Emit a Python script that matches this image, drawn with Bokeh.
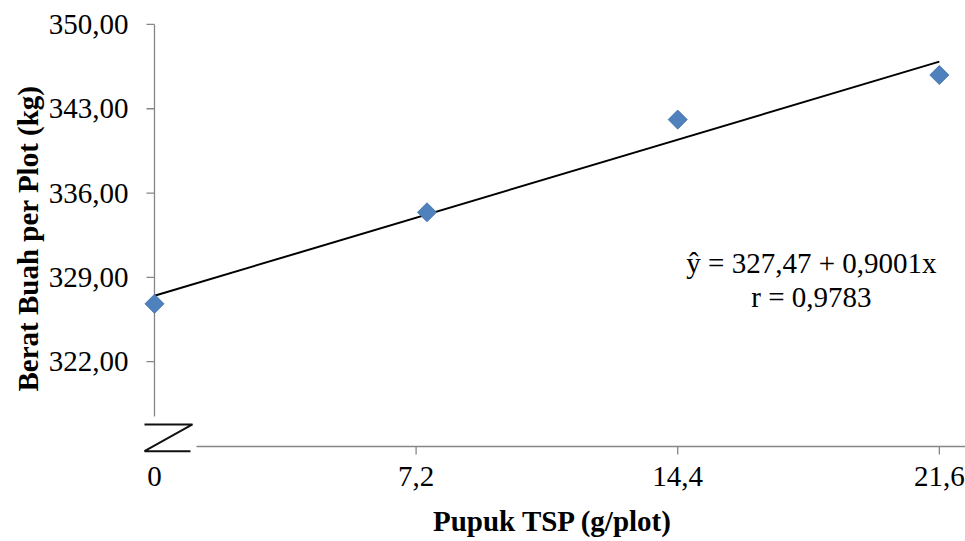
from bokeh.plotting import figure
from bokeh.models import Range1d, FixedTicker
from bokeh.embed import file_html
from bokeh.resources import INLINE
from bokeh.models import Label
import math

# ---- data ----
x_vals = [0, 7.5, 14.4, 21.6]
y_vals = [326.8, 334.4, 342.1, 345.8]
x_ticks = [0, 7.2, 14.4, 21.6]
x_tick_labels = ["0", "7,2", "14,4", "21,6"]
y_ticks = [322, 329, 336, 343, 350]
y_tick_labels = ["322,00", "329,00", "336,00", "343,00", "350,00"]
intercept = 327.47
slope = 0.9001
fit_x = [0, 21.6]
eq_text = "\u0177 = 327,47 + 0,9001x"
r_text = "r = 0,9783"

FONT = "Liberation Serif"
AXIS_GREY = "#868686"
FS = "29px"

fit_y = [intercept + slope * v for v in fit_x]

# plot ranges: the frame extends slightly beyond the drawn axes so that the
# axis-break mark (drawn as glyphs) fits inside it
x0, x1 = -0.385, 22.32
y0, y1 = 314.12, 350.33
x_axis_at = 314.95      # y value where the broken x axis line sits
y_axis_at = 0.0         # x value of the y axis line
y_line_from = 317.44    # y axis line stops here (break below)
x_line_from = 1.156     # x axis line starts here (break left of it)
px_x = 36.34            # pixels per x unit
px_y = 12.04            # pixels per y unit
tick_len = 8

p = figure(width=965, height=541, output_backend="svg", toolbar_location=None,
           x_range=Range1d(x0, x1), y_range=Range1d(y0, y1),
           min_border_left=140, min_border_right=0, min_border_top=20,
           min_border_bottom=85)
p.outline_line_color = None
p.grid.grid_line_color = None
p.background_fill_color = "white"
p.border_fill_color = "white"

# y axis: labels/title from the axis, line & ticks drawn below
yax = p.yaxis[0]
yax.ticker = FixedTicker(ticks=y_ticks)
yax.major_label_overrides = dict(zip(y_ticks, y_tick_labels))
yax.axis_line_color = None
yax.major_tick_line_color = None
yax.minor_tick_line_color = None
yax.major_tick_out = 0
yax.major_tick_in = 0
yax.major_label_text_font = FONT
yax.major_label_text_font_size = FS
yax.major_label_text_color = "black"
yax.major_label_standoff = 12
yax.axis_label = "Berat Buah per Plot (kg)"
yax.axis_label_text_font = FONT
yax.axis_label_text_font_size = FS
yax.axis_label_text_font_style = "bold"
yax.axis_label_text_color = "black"
yax.axis_label_standoff = 2

# x axis
xax = p.xaxis[0]
xax.ticker = FixedTicker(ticks=x_ticks)
xax.major_label_overrides = dict(zip(x_ticks, x_tick_labels))
xax.axis_line_color = None
xax.major_tick_line_color = None
xax.minor_tick_line_color = None
xax.major_tick_out = 0
xax.major_tick_in = 0
xax.major_label_text_font = FONT
xax.major_label_text_font_size = FS
xax.major_label_text_color = "black"
xax.major_label_standoff = 10
xax.axis_label = "Pupuk TSP (g/plot)"
xax.axis_label_text_font = FONT
xax.axis_label_text_font_size = FS
xax.axis_label_text_font_style = "bold"
xax.axis_label_text_color = "black"
xax.axis_label_standoff = 16

# axis lines and ticks
p.segment(x0=[y_axis_at], y0=[y_line_from], x1=[y_axis_at], y1=[y_ticks[-1]],
          line_color=AXIS_GREY, line_width=1.3)
p.segment(x0=[y_axis_at] * len(y_ticks), y0=y_ticks,
          x1=[y_axis_at - tick_len / px_x] * len(y_ticks), y1=y_ticks,
          line_color=AXIS_GREY, line_width=1.3)
p.segment(x0=[x_line_from], y0=[x_axis_at], x1=[x1], y1=[x_axis_at],
          line_color=AXIS_GREY, line_width=1.3)
xt = x_ticks[1:]
p.segment(x0=xt, y0=[x_axis_at] * len(xt), x1=xt,
          y1=[x_axis_at - tick_len / px_y] * len(xt),
          line_color=AXIS_GREY, line_width=1.3)

# axis break symbol (Z)
zx_l, zx_r = -0.275, 1.046
zy_t, zy_b = 316.78, 314.56
p.line([zx_l, zx_r, zx_l, 0.99], [zy_t, zy_t, zy_b, zy_b],
       line_color="#111111", line_width=2)

# trend line
p.line(fit_x, fit_y, line_color="black", line_width=2)

# data points (diamonds)
p.scatter(x_vals, y_vals, marker="square", size=13.5, angle=math.pi / 4,
          fill_color="#4F81BD", line_color="#3C6EA8", line_width=0.8)

# equation text
p.add_layout(Label(x=18.08, y=330.15, text=eq_text, text_align="center",
                   text_baseline="middle", text_font=FONT, text_font_size=FS,
                   text_color="black"))
p.add_layout(Label(x=18.08, y=327.33, text=r_text, text_align="center",
                   text_baseline="middle", text_font=FONT, text_font_size=FS,
                   text_color="black"))

open("out.html", "w").write(file_html(p, INLINE))
